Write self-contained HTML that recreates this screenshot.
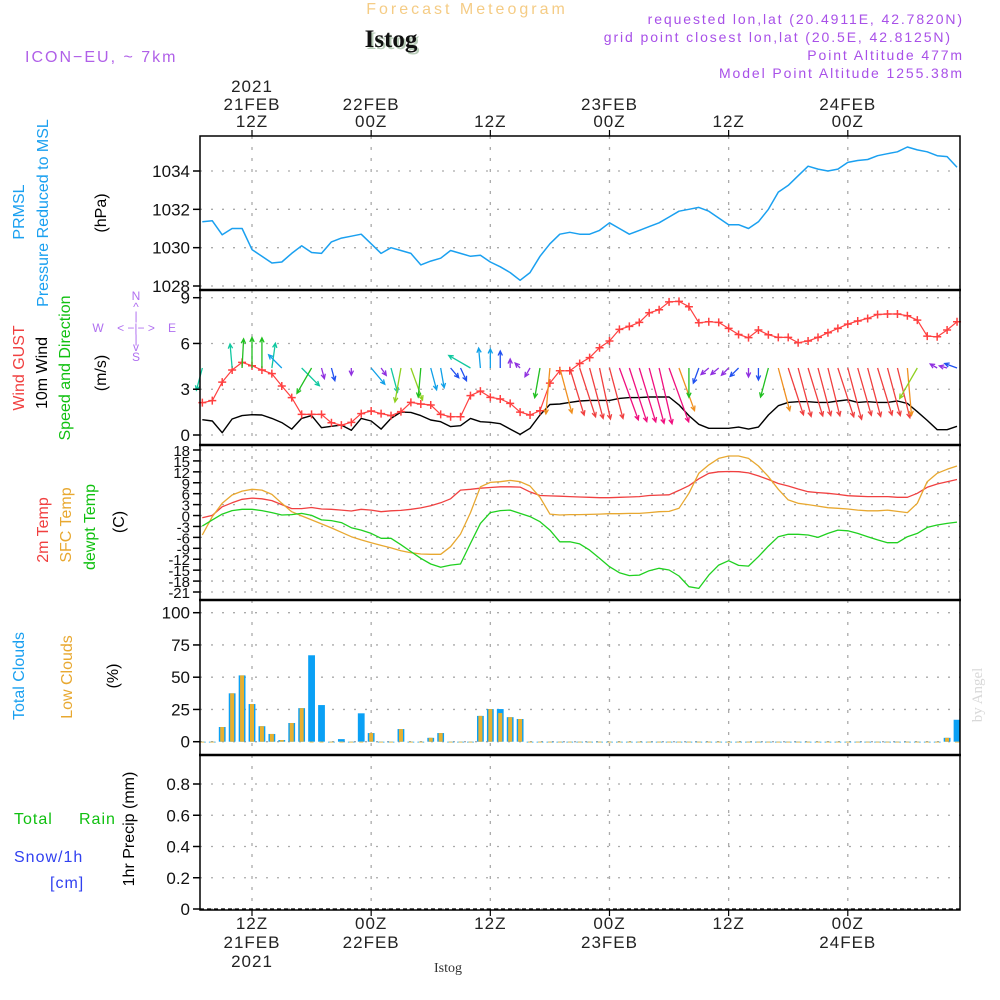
<!DOCTYPE html>
<html><head><meta charset="utf-8">
<style>
html,body{margin:0;padding:0;background:#fff;}
svg{display:block;font-family:"Liberation Sans",sans-serif;}
</style></head>
<body>
<svg id="chart" width="1000" height="1000" viewBox="0 0 1000 1000" xmlns="http://www.w3.org/2000/svg">
<text x="467" y="14" text-anchor="middle" font-size="16" letter-spacing="3" fill="#f5cc85">Forecast Meteogram</text>
<text x="393" y="49" text-anchor="middle" font-size="25" font-weight="bold" font-family="Liberation Serif,serif" fill="#b8ccb8">Istog</text>
<text x="391" y="47" text-anchor="middle" font-size="25" font-weight="bold" font-family="Liberation Serif,serif" fill="#111">Istog</text>
<text x="25" y="62" font-size="16" letter-spacing="2" fill="#b060e8">ICON−EU, ~ 7km</text>
<g font-size="14" letter-spacing="1.9" fill="#a850e8" text-anchor="end">
<text x="964" y="24">requested lon,lat (20.4911E, 42.7820N)</text>
<text x="952" y="42">grid point closest lon,lat (20.5E, 42.8125N)</text>
<text x="964" y="60">Point Altitude 477m</text>
<text x="964" y="78">Model Point Altitude 1255.38m</text>
</g>
<g id="grid"></g>
<g id="marks"></g>
<g id="frame"></g>
<g id="labels"></g>
<g font-size="16">
<text transform="translate(24,212) rotate(-90)" text-anchor="middle" fill="#1aa0f0">PRMSL</text>
<text transform="translate(48,213) rotate(-90)" text-anchor="middle" fill="#1aa0f0">Pressure Reduced to MSL</text>
<text transform="translate(106,213) rotate(-90)" text-anchor="middle" fill="#000">(hPa)</text>
<text transform="translate(24,368) rotate(-90)" text-anchor="middle" fill="#f04040">Wind GUST</text>
<text transform="translate(47,373) rotate(-90)" text-anchor="middle" fill="#000">10m Wind</text>
<text transform="translate(70,368) rotate(-90)" text-anchor="middle" fill="#10c010">Speed and Direction</text>
<text transform="translate(106,373) rotate(-90)" text-anchor="middle" fill="#000">(m/s)</text>
<text transform="translate(48,530) rotate(-90)" text-anchor="middle" fill="#f04040">2m Temp</text>
<text transform="translate(71,525) rotate(-90)" text-anchor="middle" fill="#e8a830">SFC Temp</text>
<text transform="translate(95,527) rotate(-90)" text-anchor="middle" fill="#10c010">dewpt Temp</text>
<text transform="translate(124,522) rotate(-90)" text-anchor="middle" fill="#000">(C)</text>
<text transform="translate(24,676) rotate(-90)" text-anchor="middle" fill="#1aa0f0">Total Clouds</text>
<text transform="translate(72,677) rotate(-90)" text-anchor="middle" fill="#e8a830">Low Clouds</text>
<text transform="translate(118,676) rotate(-90)" text-anchor="middle" fill="#000">(%)</text>
<text transform="translate(134,829) rotate(-90)" text-anchor="middle" fill="#000">1hr Precip (mm)</text>
<text x="14" y="824" fill="#10c010" letter-spacing="1">Total</text>
<text x="79" y="824" fill="#10c010" letter-spacing="1">Rain</text>
<text x="14" y="862" fill="#3040f0" letter-spacing="1">Snow/1h</text>
<text x="50" y="888" fill="#3040f0" letter-spacing="1">[cm]</text>
</g>
<g font-size="12" fill="#b070f0" text-anchor="middle">
<text x="136" y="300">N</text><text x="136" y="311">^</text><text x="136" y="320">|</text>
<text x="98" y="332">W</text><text x="136" y="332">&lt; −|− &gt;</text><text x="172" y="332">E</text>
<text x="136" y="343">|</text><text x="136" y="351">v</text><text x="136" y="361">S</text>
</g>
<text transform="translate(982,695) rotate(-90)" text-anchor="middle" font-size="15" font-family="Liberation Serif,serif" fill="#d8d8d8">by Angel</text>
<text x="448" y="972" text-anchor="middle" font-size="14" font-family="Liberation Serif,serif" fill="#333">Istog</text>
</svg>
<script>
const hours0 = 7;
const pressure = [1031.35,1031.4,1030.67,1031.0,1031.0,1029.9,1029.55,1029.2,1029.25,1029.7,1030.1,1029.75,1029.7,1030.3,1030.5,1030.6,1030.7,1030.2,1029.7,1030.0,1029.85,1029.7,1029.1,1029.3,1029.45,1029.85,1029.7,1029.55,1029.6,1029.25,1029.0,1028.7,1028.3,1028.7,1029.55,1030.2,1030.7,1030.8,1030.7,1030.7,1030.9,1031.3,1031.0,1030.7,1030.9,1031.1,1031.3,1031.6,1031.9,1032.0,1032.1,1031.9,1031.55,1031.2,1031.2,1031.0,1031.35,1032.0,1032.9,1033.25,1033.75,1034.25,1034.1,1034.0,1034.1,1034.45,1034.55,1034.6,1034.8,1034.9,1035.0,1035.25,1035.1,1035.0,1034.8,1034.75,1034.2];
const gust = [2.12,2.25,3.47,4.26,4.76,4.54,4.26,4.02,3.21,2.45,1.35,1.35,1.35,0.8,0.65,0.83,1.4,1.57,1.4,1.27,1.53,2.14,2.03,1.97,1.35,1.2,1.2,2.58,2.88,2.47,2.36,2.07,1.5,1.31,1.59,3.4,4.21,4.21,4.69,5.07,5.72,6.16,6.92,7.12,7.38,8.01,8.21,8.73,8.76,8.41,7.36,7.42,7.38,6.99,6.59,6.38,6.88,6.57,6.4,6.4,6.05,6.16,6.4,6.7,6.99,7.27,7.47,7.64,7.9,7.93,7.93,7.82,7.53,6.48,6.44,6.88,7.42];
const windSpeed = [1.0,0.92,0.15,1.05,1.27,1.33,1.31,1.09,0.81,0.39,1.09,1.27,0.48,0.57,0.65,0.31,1.09,0.92,0.39,1.09,1.5,1.48,1.27,0.98,0.87,0.55,0.61,1.09,0.87,0.83,0.74,0.39,0.04,0.44,1.31,2.0,2.03,2.14,2.23,2.27,2.27,2.27,2.4,2.45,2.45,2.49,2.49,2.49,1.97,1.27,0.7,0.44,0.44,0.44,0.52,0.39,0.52,1.31,1.92,2.14,2.18,2.18,2.14,2.14,2.23,2.31,2.14,2.18,2.14,2.14,2.23,2.07,1.53,0.96,0.35,0.35,0.57];
const windDir = [195,null,null,355,3,0,0,8,315,null,135,210,165,165,null,180,null,140,145,165,190,160,185,165,170,140,155,300,355,0,0,0,315,210,190,185,165,163,162,165,168,165,160,162,163,165,167,160,160,180,200,230,230,225,225,180,180,195,165,162,165,163,165,166,162,165,164,165,163,165,166,175,210,null,300,285,290];
const temp2m = [-0.6,0.05,2.4,3.5,4.45,4.8,4.6,4.1,3.0,1.9,1.9,2.2,1.8,1.7,1.5,1.25,1.7,1.5,1.05,1.3,1.4,1.7,2.1,2.7,3.5,4.6,7.0,7.2,7.5,7.7,7.9,7.9,7.8,6.5,5.5,5.4,5.3,5.2,5.1,5.0,4.9,4.9,5.0,5.1,5.2,5.5,5.6,5.7,6.9,8.2,10.1,11.6,12.0,12.1,12.05,11.7,10.9,9.9,8.8,8.1,7.3,6.55,6.3,6.1,5.8,5.45,5.3,5.2,5.2,5.2,5.0,5.0,6.1,7.75,8.65,9.3,9.9];
const sfcTemp = [-5.35,-0.3,3.35,5.65,6.7,7.2,7.0,5.8,3.35,1.05,-0.1,-1.2,-2.3,-3.4,-4.6,-5.8,-6.7,-7.45,-8.2,-8.9,-9.65,-10.2,-10.55,-10.65,-10.65,-8.55,-5.1,0.8,7.9,9.1,9.3,9.65,9.3,8.1,5.0,0.4,0.15,0.25,0.25,0.3,0.4,0.5,0.5,0.6,0.6,0.8,1.05,1.15,2.0,6.1,11.6,13.9,15.7,16.35,16.35,15.7,13.6,10.7,7.2,4.3,3.35,3.0,2.6,2.15,2.0,1.8,1.5,1.3,1.3,1.5,1.15,0.8,3.35,9.3,11.6,12.7,13.6];
const dewpt = [-2.9,-1.2,0.4,1.35,1.7,1.7,1.35,0.8,0.15,0.25,0.6,0.05,-1.2,-1.4,-1.95,-3.35,-4.0,-4.9,-6.25,-6.25,-8.0,-9.9,-11.75,-13.3,-14.2,-13.6,-13.3,-7.65,-2.15,0.8,1.35,1.5,0.6,-0.3,-1.7,-4.0,-7.2,-7.2,-7.8,-9.5,-11.75,-14.05,-15.7,-16.5,-16.35,-15.15,-14.5,-14.95,-16.6,-19.55,-20.0,-16.35,-13.6,-12.4,-13.7,-13.9,-11.3,-8.4,-5.8,-5.15,-5.15,-5.35,-6.0,-4.9,-4.0,-4.2,-4.9,-5.8,-6.7,-7.45,-7.45,-5.8,-4.9,-3.25,-2.6,-2.15,-1.8];
const totalClouds = [0,0,11.4,37.5,51.4,29.2,12,6,1.3,14.5,26,67,28.4,0,2,0,22,6.7,0,0,9.8,0,0,3,6.7,0,0,0,20,25.3,25.3,19,17.6,0,0,0,0,0,0,0,0,0,0,0,0,0,0,0,0,0,0,0,0,0,0,0,0,0,0,0,0,0,0,0,0,0,0,0,0,0,0,0,0,0,0,3,17];
const lowClouds = [0,0,11.4,37.5,51.4,29.2,12,6,1.3,14.5,26,0,0,0,0,0,0,6.7,0,0,9.8,0,0,3,6.7,0,0,0,20,25.3,22.2,19,17.6,0,0,0,0,0,0,0,0,0,0,0,0,0,0,0,0,0,0,0,0,0,0,0,0,0,0,0,0,0,0,0,0,0,0,0,0,0,0,0,0,0,0,3,0];
const presTicks = [1028,1030,1032,1034];
const windTicks = [0,3,6,9];
const tempTicks = [18,15,12,9,6,3,0,-3,-6,-9,-12,-15,-18,-21];
const cloudTicks = [0,25,50,75,100];
const precipTicks = [0,0.2,0.4,0.6,0.8];
const timeTicks = [12,24,36,48,60,72];
const topLabels = [["2021","21FEB","12Z"],["","22FEB","00Z"],["","","12Z"],["","23FEB","00Z"],["","","12Z"],["","24FEB","00Z"]];
const bottomLabels = [["12Z","21FEB","2021"],["00Z","22FEB",""],["12Z","",""],["00Z","23FEB",""],["12Z","",""],["00Z","24FEB",""]];

const NS="http://www.w3.org/2000/svg";
const X0=200,X1=960;
function xOf(h){return 252+(h-12)*9.93;}
function lin(v0,p0,v1,p1){return v=>p0+(v-v0)*(p1-p0)/(v1-v0);}
const yP=lin(1028,286,1034,171);
const yW=lin(0,435,9,297.7);
const yT=lin(18,450,-21,592);
const yC=lin(0,741.7,100,612.7);
const yR=lin(0,909,0.8,784);
function el(tag,attrs,parent){const e=document.createElementNS(NS,tag);for(const k in attrs)e.setAttribute(k,attrs[k]);parent.appendChild(e);return e;}
const grid=document.getElementById('grid'),marks=document.getElementById('marks'),frame=document.getElementById('frame'),labels=document.getElementById('labels');
const panels=[[136,290,presTicks,yP,v=>String(v)],[290,445,windTicks,yW,v=>String(v)],[445,600,tempTicks,yT,v=>String(v)],[600,755,cloudTicks,yC,v=>String(v)],[755,910,precipTicks,yR,v=>v===0?"0":v.toFixed(1)]];
panels.forEach((p,pi)=>{
  p[2].forEach(v=>{
    const y=p[3](v);
    const g=el('line',{x1:X0,x2:X1,y1:y,y2:y,stroke:'#aaa','stroke-width':1.3,'stroke-dasharray':'2 9'},grid);
    
    
    const t=el('line',{x1:193,x2:X0,y1:y,y2:y,stroke:'#000','stroke-width':1.5},frame);
    
    
    const tx=el('text',{x:190,y:y+6,'text-anchor':'end','font-size':pi===2?15:17,fill:'#111'},labels);
    tx.textContent=p[4](v);
    
    
  });
  timeTicks.forEach(h=>{
    const g=el('line',{x1:xOf(h),x2:xOf(h),y1:p[0],y2:p[1],stroke:'#aaa','stroke-width':1.3,'stroke-dasharray':'3 8'},grid);
    
    
  });
});
const fr=el('rect',{x:X0,y:136,width:X1-X0,height:774,fill:'none',stroke:'#000','stroke-width':1.5},frame);


[290,445,600,755].forEach(y=>{
  const s=el('line',{x1:X0-1,x2:X1+1,y1:y,y2:y,stroke:'#000','stroke-width':2.5},frame);
  
  
});
const zl=el('line',{x1:X0,x2:X1,y1:909,y2:909,stroke:'#000','stroke-width':1.2,'stroke-dasharray':'4 3'},frame);


timeTicks.forEach((h,i)=>{
  const x=xOf(h);
  const t1=el('line',{x1:x,x2:x,y1:130,y2:136,stroke:'#000','stroke-width':1.2},frame);
  
  
  const t2=el('line',{x1:x,x2:x,y1:910,y2:916,stroke:'#000','stroke-width':1.2},frame);
  
  
  [92,110,127].forEach((y,k)=>{
    if(!topLabels[i][k])return;
    const t=el('text',{x:x,y:y,'text-anchor':'middle','font-size':17,'letter-spacing':1,fill:'#222'},labels);
    t.textContent=topLabels[i][k];
    
    
  });
  [929,948,967].forEach((y,k)=>{
    if(!bottomLabels[i][k])return;
    const t=el('text',{x:x,y:y,'text-anchor':'middle','font-size':17,'letter-spacing':1,fill:'#222'},labels);
    t.textContent=bottomLabels[i][k];
    
    
  });
});
function line(arr,yf,color,w,name){
  const d=arr.map((v,i)=>(i?'L':'M')+xOf(hours0+i).toFixed(1)+' '+yf(v).toFixed(1)).join(' ');
  const p=el('path',{d:d,fill:'none',stroke:color,'stroke-width':w,'stroke-linejoin':'round'},marks);
  
  
}
totalClouds.forEach((v,i)=>{
  const x=xOf(hours0+i);
  const b=el('rect',{x:x-3.4,y:yC(v),width:6.8,height:Math.max(0.8,yC(0)-yC(v)),fill:'#0aa0f5'},marks);
  
  
  const lv=lowClouds[i];
  const c=el('rect',{x:x-2,y:yC(lv),width:4,height:Math.max(0.8,yC(0)-yC(lv)),fill:'#e8b030'},marks);
  
  
});
line(pressure,yP,'#1aa0f0',1.5,'pressure-line');
line(temp2m,yT,'#f04040',1.3,'temp2m-line');
line(sfcTemp,yT,'#e8a830',1.3,'sfc-temp-line');
line(dewpt,yT,'#20d020',1.3,'dewpt-line');
line(windSpeed,yW,'#000',1.4,'wind-speed-line');
line(gust,yW,'#ff4040',1.2,'gust-line');
gust.forEach((v,i)=>{
  const x=xOf(hours0+i),y=yW(v);
  const m=el('path',{d:`M${x-4} ${y}H${x+4}M${x} ${y-4}V${y+4}`,stroke:'#ff4040','stroke-width':1.5},marks);
  
  
});
function arrowColor(s){
  if(s<0.5)return'#9030e0';if(s<0.8)return'#2050f0';if(s<1.0)return'#10a0e8';if(s<1.2)return'#10c8a0';
  if(s<1.45)return'#20c020';if(s<1.8)return'#90d020';if(s<2.1)return'#f09020';if(s<2.35)return'#f04040';return'#f0107f';
}
windDir.forEach((dg,i)=>{
  if(dg===null)return;
  const s=windSpeed[i],L=Math.max(7,23*s),a=dg*Math.PI/180;
  const x0=xOf(hours0+i),y0=368;
  const x1=x0+L*Math.sin(a),y1=y0-L*Math.cos(a);
  const ah=5,sp=0.45;
  const bx=-Math.sin(a),by=Math.cos(a);
  const lx=x1+ah*(bx*Math.cos(sp)-by*Math.sin(sp)),ly=y1+ah*(bx*Math.sin(sp)+by*Math.cos(sp));
  const rx=x1+ah*(bx*Math.cos(-sp)-by*Math.sin(-sp)),ry=y1+ah*(bx*Math.sin(-sp)+by*Math.cos(-sp));
  const p=el('path',{d:`M${x0} ${y0}L${x1} ${y1}M${lx} ${ly}L${x1} ${y1}L${rx} ${ry}`,fill:'none',stroke:arrowColor(s),'stroke-width':1.3},marks);
  
  
});
</script>
</body></html>
